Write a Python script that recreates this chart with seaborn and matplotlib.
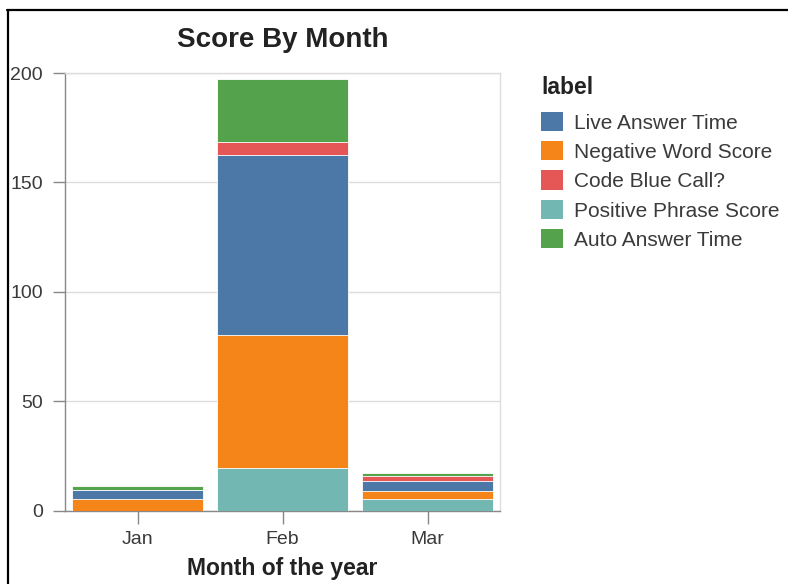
import matplotlib
matplotlib.use("Agg")
import matplotlib.pyplot as plt
from matplotlib.lines import Line2D
from matplotlib.patches import Patch
import numpy as np
import seaborn as sns

# data
months = ["Jan", "Feb", "Mar"]
legend_order = ["Live Answer Time", "Negative Word Score", "Code Blue Call?",
                "Positive Phrase Score", "Auto Answer Time"]
# bottom -> top stacking order
stack_order = ["Positive Phrase Score", "Negative Word Score", "Live Answer Time",
               "Code Blue Call?", "Auto Answer Time"]
positive_phrase = [0.0, 19.3, 5.3]
negative_word = [5.4, 61.0, 3.8]
live_answer = [4.0, 82.0, 4.2]
code_blue = [0.0, 6.2, 2.5]
auto_answer = [2.0, 28.8, 1.2]

colors = {
    "Live Answer Time": "#4c78a8",
    "Negative Word Score": "#f58518",
    "Code Blue Call?": "#e45756",
    "Positive Phrase Score": "#72b7b2",
    "Auto Answer Time": "#54a24b",
}

values = {
    "Positive Phrase Score": positive_phrase,
    "Negative Word Score": negative_word,
    "Live Answer Time": live_answer,
    "Code Blue Call?": code_blue,
    "Auto Answer Time": auto_answer,
}

sns.set_theme(style="white")
plt.rcParams["font.family"] = ["Liberation Sans", "DejaVu Sans"]

fig = plt.figure(figsize=(7.88, 5.84), dpi=100)
ax = fig.add_axes([65 / 788, (584 - 510.5) / 584, 435 / 788, 437.5 / 584])

# cumulative layers, tallest first so lower segments sit on top
cum = np.cumsum([values[k] for k in stack_order], axis=0)
for i in range(len(stack_order) - 1, -1, -1):
    sns.barplot(x=months, y=cum[i], color=colors[stack_order[i]], width=0.9,
                saturation=1, edgecolor="white", linewidth=0.6, ax=ax, zorder=3)

ax.set_xlim(-0.5, 2.5)
ax.set_ylim(0, 200)
ax.set_yticks([0, 50, 100, 150, 200])
ax.yaxis.grid(True, color="#dddddd", linewidth=1, zorder=0)
ax.xaxis.grid(False)
ax.set_axisbelow(True)

for side in ["top", "right"]:
    ax.spines[side].set_color("#dddddd")
    ax.spines[side].set_linewidth(1)
for side in ["left", "bottom"]:
    ax.spines[side].set_color("#888888")
    ax.spines[side].set_linewidth(1)

ax.tick_params(axis="both", which="major", direction="out", length=9, width=1,
               color="#888888", labelsize=14, labelcolor="#3a3a3a",
               left=True, bottom=True)
ax.tick_params(axis="y", pad=7)
ax.tick_params(axis="x", pad=5.5)

ax.set_xlabel("Month of the year", fontsize=16.5, fontweight="bold",
              color="#222222", labelpad=7)
ax.set_ylabel("")
ax.set_title("Score By Month", fontsize=20, fontweight="bold", color="#222222", pad=18.5)

handles = [Patch(facecolor=colors[k], edgecolor="none") for k in legend_order]
leg = fig.legend(handles, legend_order, loc="upper left",
                 bbox_to_anchor=(533 / 788, 1 - 68 / 584), frameon=False,
                 fontsize=15, title="label", alignment="left",
                 title_fontproperties={"weight": "bold", "size": 16.5},
                 handlelength=1.05, handleheight=1.05, handletextpad=0.5,
                 labelspacing=0.41, borderaxespad=0)
leg._legend_box.sep = 9
for t in leg.get_texts():
    t.set_color("#3a3a3a")
leg.get_title().set_color("#222222")

# screenshot frame lines (top and left)
fig.add_artist(Line2D([7 / 788, 1], [1 - 9.5 / 584, 1 - 9.5 / 584],
                      transform=fig.transFigure, color="black", linewidth=1.6))
fig.add_artist(Line2D([7.5 / 788, 7.5 / 788], [0, 1 - 9.5 / 584],
                      transform=fig.transFigure, color="black", linewidth=1.6))

fig.savefig("out.png", dpi=100)
